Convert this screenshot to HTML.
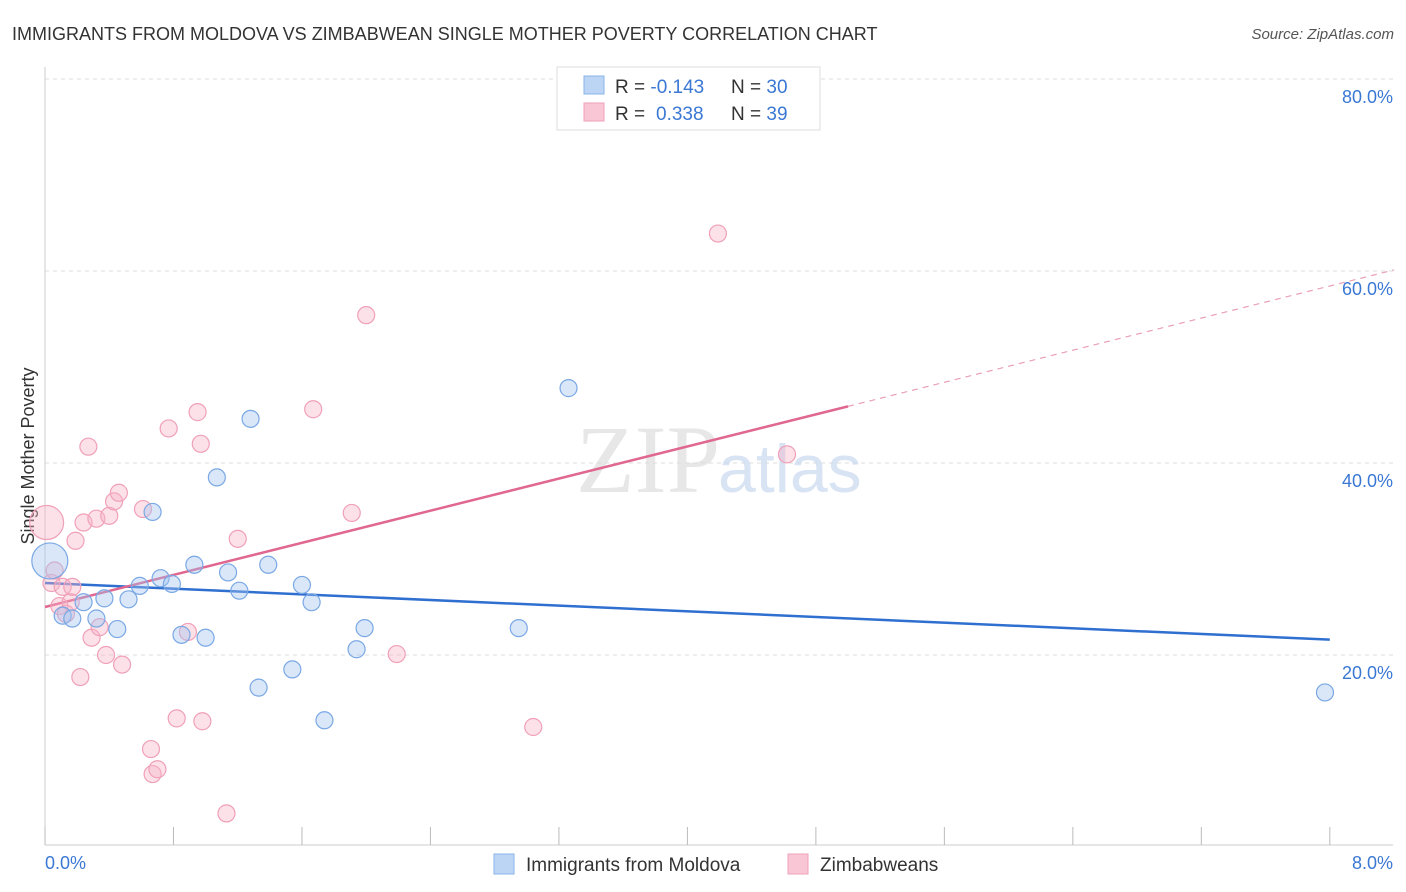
<!DOCTYPE html>
<html><head><meta charset="utf-8">
<style>
body{margin:0;background:#fff;font-family:"Liberation Sans",sans-serif;}
svg{display:block}
</style></head>
<body>
<svg width="1406" height="892">
<text x="12" y="40" font-size="18" fill="#333">IMMIGRANTS FROM MOLDOVA VS ZIMBABWEAN SINGLE MOTHER POVERTY CORRELATION CHART</text>
<text x="1394" y="39" font-size="15" fill="#555" font-style="italic" text-anchor="end">Source: ZipAtlas.com</text>
<g id="grid"></g>
<text x="720" y="492" font-size="96" fill="#ddd" font-family="Liberation Serif" text-anchor="end" opacity="0.7">ZIP</text>
<text x="718" y="492" font-size="68" fill="#c8d8ef" opacity="0.7">atlas</text>
<text transform="translate(34,456) rotate(-90)" font-size="18" fill="#333" text-anchor="middle">Single Mother Poverty</text>
<text x="45" y="869" font-size="18" fill="#3a78d4">0.0%</text>
<text x="1393" y="869" font-size="18" fill="#3a78d4" text-anchor="end">8.0%</text>
<g id="lines"></g>
<g id="points"></g>
<g>
<rect x="557" y="67" width="263" height="63" fill="#fff" stroke="#ddd"/>
<rect x="584" y="76" width="20" height="18" fill="#bcd5f5" stroke="#8ab4e8"/>
<rect x="584" y="103" width="20" height="18" fill="#f9c6d5" stroke="#f0a0b8"/>
<text x="615" y="93" font-size="19" fill="#333">R = <tspan fill="#3a78d4">-0.143</tspan><tspan x="731">N = </tspan><tspan fill="#3a78d4">30</tspan></text>
<text x="615" y="120" font-size="19" fill="#333">R = <tspan fill="#3a78d4" x="656">0.338</tspan><tspan x="731">N = </tspan><tspan fill="#3a78d4">39</tspan></text>
</g>
<g>
<rect x="494" y="854" width="20" height="20" fill="#bcd5f5" stroke="#8ab4e8"/>
<text x="526" y="871" font-size="19" fill="#333">Immigrants from Moldova</text>
<rect x="788" y="854" width="20" height="20" fill="#f9c6d5" stroke="#f0a0b8"/>
<text x="820" y="871" font-size="19" fill="#333">Zimbabweans</text>
</g>
</svg>
<script>
const yTicks=[20,40,60,80];
const yTickLabels=["20.0%","40.0%","60.0%","80.0%"];
const xTicks=[0,0.8,1.6,2.4,3.2,4,4.8,5.6,6.4,7.2,8];
const blueX=[0.03,0.11,0.17,0.24,0.32,0.37,0.45,0.52,0.59,0.67,0.72,0.79,0.85,0.93,1.00,1.07,1.14,1.21,1.28,1.33,1.39,1.54,1.60,1.66,1.74,1.94,1.99,2.95,3.26,7.97];
const blueY=[29.8,24.1,23.8,25.5,23.8,25.9,22.7,25.8,27.2,34.9,28.0,27.4,22.1,29.4,21.8,38.5,28.6,26.7,44.6,16.6,29.4,18.5,27.3,25.5,13.2,20.6,22.8,22.8,47.8,16.1];
const pinkX=[0.01,0.04,0.06,0.09,0.11,0.13,0.16,0.17,0.19,0.22,0.24,0.27,0.29,0.32,0.34,0.38,0.40,0.43,0.46,0.48,0.61,0.66,0.67,0.70,0.77,0.82,0.89,0.95,0.97,0.98,1.13,1.20,1.67,1.91,2.00,2.19,3.04,4.19,4.62];
const pinkY=[33.8,27.5,28.8,25.1,27.1,24.3,25.5,27.1,31.9,17.7,33.8,41.7,21.8,34.2,22.9,20.0,34.5,36.0,36.9,19.0,35.2,10.2,7.6,8.1,43.6,13.4,22.4,45.3,42.0,13.1,3.5,32.1,45.6,34.8,55.4,20.1,12.5,63.9,40.9];
const blueLine=[27.5,21.6]; // y at x=0 and x=8
const pinkIntercept=25.0, pinkSlope=4.18, pinkSolidEnd=5.0, pinkDashEnd=8.4;

const NS="http://www.w3.org/2000/svg";
const sx=v=>45+v*160.6;
const sy=v=>847-v*9.6;
function mk(tag,attrs,parent){const e=document.createElementNS(NS,tag);for(const k in attrs)e.setAttribute(k,attrs[k]);document.getElementById(parent).appendChild(e);return e;}
yTicks.forEach((t,i)=>{
  const l=mk('line',{x1:45,x2:1393,y1:sy(t),y2:sy(t),stroke:'#ddd','stroke-dasharray':'4,4'},'grid');
  
  
  const tx=mk('text',{x:1393,y:sy(t)+24,'font-size':18,fill:'#3a78d4','text-anchor':'end'},'grid');
  tx.textContent=yTickLabels[i];
  
  
});
const ax=mk('line',{x1:45,x2:1393,y1:845,y2:845,stroke:'#ccc'},'grid');


const ay=mk('line',{x1:45,x2:45,y1:67,y2:845,stroke:'#ccc'},'grid');


xTicks.forEach(t=>{
  const l=mk('line',{x1:sx(t),x2:sx(t),y1:827,y2:845,stroke:'#bbb'},'grid');
  
  
});
const bl=mk('line',{x1:sx(0),y1:sy(blueLine[0]),x2:sx(8),y2:sy(blueLine[1]),stroke:'#2f6fd0','stroke-width':2.5},'lines');


const pl=mk('line',{x1:sx(0),y1:sy(pinkIntercept),x2:sx(pinkSolidEnd),y2:sy(pinkIntercept+pinkSlope*pinkSolidEnd),stroke:'#e06890','stroke-width':2.5},'lines');


const pd=mk('line',{x1:sx(pinkSolidEnd),y1:sy(pinkIntercept+pinkSlope*pinkSolidEnd),x2:sx(pinkDashEnd),y2:sy(pinkIntercept+pinkSlope*pinkDashEnd),stroke:'#e8a0b8','stroke-width':1.2,'stroke-dasharray':'6,5'},'lines');


pinkX.forEach((x,i)=>{
  const c=mk('circle',{cx:sx(x),cy:sy(pinkY[i]),r:i===0?17:8.5,fill:'rgba(248,180,200,0.4)',stroke:'#f0a0b8','stroke-width':1.2},'points');
  
  
});
blueX.forEach((x,i)=>{
  const c=mk('circle',{cx:sx(x),cy:sy(blueY[i]),r:i===0?18:8.5,fill:'rgba(160,196,240,0.4)',stroke:'#7aa8e4','stroke-width':1.2},'points');
  
  
});
</script>
</body></html>
